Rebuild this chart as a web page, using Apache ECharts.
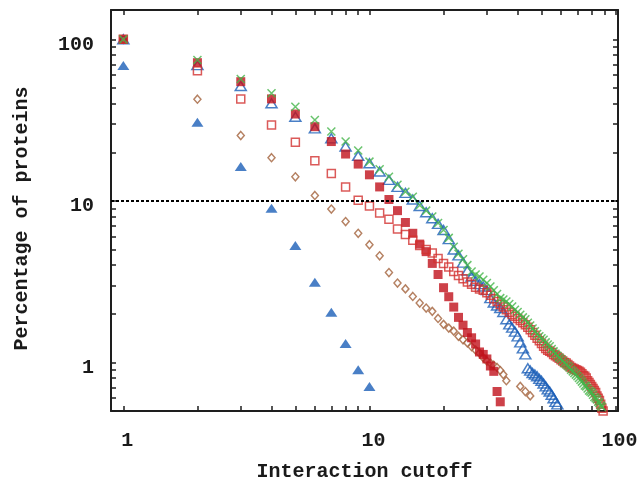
<!DOCTYPE html>
<html><head><meta charset="utf-8">
<script src="https://cdn.jsdelivr.net/npm/echarts@6/dist/echarts.min.js"></script>
<style>html,body{margin:0;padding:0;background:#fff}#c{width:639px;height:481px}</style>
</head><body><div id="c"></div>
<script>
// ---- axis ticks / labels ----
const xLabels = [1, 10, 100];
const xTicks = [1, 2, 3, 4, 5, 6, 7, 8, 9, 10, 20, 30, 40, 50, 60, 70, 80, 90, 100];
const yLabels = [1, 10, 100];
const yTicks = [0.5, 0.6, 0.7, 0.8, 0.9, 1, 2, 3, 4, 5, 6, 7, 8, 9, 10, 20, 30, 40, 50, 60, 70, 80, 90, 100];
const thresholdY = 10;

// ---- series data ----
const blueFilledX = [1, 2, 3, 4, 5, 6, 7, 8, 9, 10];
const blueFilledY = [69, 30.7, 16.3, 9.0, 5.3, 3.13, 2.04, 1.31, 0.90, 0.71];

const brownX = [1,2,3,4,5,6,7,8,9,10,11,12,13,14,15,16,17,18,19,20,21,22,23,24,25,26,27,28,29,30,31,32,33,34,35,36,41,43,45];
const brownY = [100,42.6,25.4,18.5,14.1,10.8,8.9,7.45,6.3,5.35,4.57,3.6,3.1,2.85,2.56,2.33,2.17,2.07,1.87,1.72,1.63,1.56,1.45,1.38,1.32,1.25,1.19,1.14,1.07,1.02,0.99,0.96,0.93,0.89,0.84,0.77,0.71,0.66,0.62];

const blueOpenX = [1,2,3,4,5,6,7,8,9,10,11,12,13,14,15,16,17,18,19,20,21,22,23,24,25,26,27,28,29,30,31,32,33,34,35,36,37,38,39,40,41,42,43,44,45,46,47,48,49,50,51,52,53,54,55,56,57,58];
const blueOpenY = [100,69.3,51.4,40.2,33.2,28.1,24.4,21.7,19,17.1,15.2,13.5,12.2,11.2,10.2,9.3,8.5,7.8,7.2,6.6,5.8,5.0,4.6,4.15,3.7,3.4,3.2,3.05,2.95,2.8,2.5,2.35,2.25,2.17,2.05,1.85,1.72,1.64,1.55,1.45,1.33,1.22,1.12,0.92,0.89,0.86,0.84,0.82,0.79,0.77,0.74,0.71,0.68,0.66,0.63,0.60,0.57,0.55];

const redFilledX = [1,2,3,4,5,6,7,8,9,10,11,12,13,14,15,16,17,18,19,20,21,22,23,24,25,26,27,28,29,30,31,32,33,34];
const redFilledY = [100,71.7,54.7,42.8,34.5,28.8,23.3,19.5,16.9,14.5,12.2,10.2,8.7,7.35,6.3,5.4,4.85,4.1,3.5,2.9,2.55,2.2,1.9,1.7,1.53,1.42,1.3,1.16,1.12,1.05,0.95,0.88,0.66,0.57];

const redOpenX = [1,2,3,4,5,6,7,8,9,10,11,12,13,14,15,16,17,18,19,20,21,22,23,24,25,26,27,28,29,30,31,32,33,34,35,36,37,38,39,40,41,42,43,44,45,46,47,48,49,50,51,52,53,54,55,56,57,58,59,60,61,62,63,64,65,66,67,68,69,70,71,72,73,74,75,76,77,78,79,80,81,82,83,84,85,86,87,88,89];
const redOpenY = [100,63.9,42.8,29.5,23.1,17.7,14.8,12.2,10.1,9.3,8.4,7.7,6.7,6.2,5.7,5.3,5.0,4.75,4.4,4.1,3.9,3.65,3.45,3.3,3.15,3.05,2.92,2.85,2.8,2.7,2.6,2.48,2.38,2.28,2.2,2.12,2.04,1.98,1.93,1.87,1.82,1.76,1.71,1.65,1.59,1.53,1.47,1.41,1.36,1.31,1.26,1.22,1.19,1.17,1.15,1.12,1.1,1.08,1.06,1.04,1.02,1.0,0.99,0.97,0.95,0.93,0.92,0.91,0.9,0.89,0.88,0.87,0.85,0.83,0.82,0.8,0.77,0.75,0.73,0.71,0.69,0.67,0.65,0.62,0.6,0.58,0.55,0.52,0.5];

const greenX = [1,2,3,4,5,6,7,8,9,10,11,12,13,14,15,16,17,18,19,20,21,22,23,24,25,26,27,28,29,30,31,32,33,34,35,36,37,38,39,40,41,42,43,44,45,46,47,48,49,50,51,52,53,54,55,56,57,58,59,60,61,62,63,64,65,66,67,68,69,70,71,72,73,74,75,76,77,78,79,80,81,82,83,84,85,86,87,88];
const greenY = [100,74.5,56.8,46.4,38.3,31.7,26.9,23.3,20.5,17.5,15.7,14.1,12.6,11.4,10.6,9.4,8.7,8.0,7.3,6.6,5.9,5.2,4.7,4.35,4.0,3.65,3.5,3.4,3.25,3.1,2.95,2.8,2.65,2.5,2.45,2.38,2.3,2.22,2.12,2.05,1.97,1.9,1.85,1.76,1.69,1.62,1.56,1.5,1.45,1.41,1.38,1.33,1.29,1.26,1.21,1.17,1.13,1.1,1.07,1.05,1.02,0.99,0.97,0.95,0.93,0.9,0.88,0.86,0.84,0.82,0.8,0.78,0.76,0.74,0.72,0.71,0.69,0.67,0.66,0.65,0.63,0.61,0.6,0.59,0.57,0.56,0.54,0.53];

const X_MIN = 0.891, X_MAX = 102.3, Y_MIN = 0.5, Y_MAX = 152;

const FONT = '"Liberation Mono", "DejaVu Sans Mono", monospace';
const AXC = '#1e1e1e';
const TXT = '#1a1a1a';
const zip = (xs, ys) => xs.map((x, i) => [x, ys[i]]);
const labelFont = { fontFamily: FONT, fontWeight: 'bold', fontSize: 20, color: TXT };

function mkAxis(kind, pos, labels, labelExtra) {
  return {
    type: 'log', position: pos,
    min: kind === 'x' ? X_MIN : Y_MIN, max: kind === 'x' ? X_MAX : Y_MAX,
    splitLine: { show: false },
    axisLine: { show: true, lineStyle: { color: AXC, width: 2 } },
    axisTick: { show: true, inside: true, length: 5, customValues: kind === 'x' ? xTicks : yTicks,
      lineStyle: { color: AXC, width: 1.5 } },
    axisLabel: labels ? Object.assign({ show: true, customValues: labels }, labelFont, labelExtra) : { show: false }
  };
}

const xAxes = [
  Object.assign(mkAxis('x', 'bottom', xLabels, {
    margin: 20, padding: [0, 0, 0, 8], formatter: v => String(Math.round(v))
  }), {
    name: 'Interaction cutoff', nameLocation: 'middle', nameGap: 51,
    nameTextStyle: labelFont
  }),
  mkAxis('x', 'top', null)
];
const yAxes = [
  Object.assign(mkAxis('y', 'left', yLabels, {
    margin: 17, formatter: v => '{a|' + Math.round(v) + '}',
    rich: { a: Object.assign({ padding: [11, 0, 0, 0] }, labelFont) }
  }), {
    name: 'Percentage of proteins', nameLocation: 'middle', nameGap: 79, nameRotate: 90,
    nameTextStyle: Object.assign({ padding: [0, 16, 0, 0] }, labelFont)
  }),
  mkAxis('y', 'right', null)
];

const BLUE = '#1c5fb8', RED = '#c0121c', RED2 = '#d2312f', BROWN = '#a3613b', GREEN = '#45b54a';
const xPath = 'path://M0,0L10,10M10,0L0,10';

const option = {
  animation: false,
  backgroundColor: '#fff',
  grid: { left: 111, top: 10, right: 21, bottom: 70, containLabel: false, outerBoundsMode: 'none' },
  xAxis: xAxes,
  yAxis: yAxes,
  series: [
    { type: 'scatter', name: 'blueFilled', data: zip(blueFilledX, blueFilledY), symbol: 'triangle', symbolSize: [12, 9],
      itemStyle: { color: BLUE }, clip: false,
      markLine: { silent: true, symbol: 'none', label: { show: false },
        lineStyle: { color: '#000', type: [3, 2], width: 2 }, data: [{ yAxis: thresholdY }] } },
    { type: 'scatter', name: 'brown', data: zip(brownX, brownY), symbol: 'diamond', symbolSize: [7, 8],
      itemStyle: { color: '#fff', borderColor: BROWN, borderWidth: 1.5 }, clip: false },
    { type: 'scatter', name: 'blueOpen', data: zip(blueOpenX, blueOpenY), symbol: 'triangle', symbolSize: [11, 9],
      itemStyle: { color: 'rgba(255,255,255,0)', borderColor: BLUE, borderWidth: 1.5 }, clip: false },
    { type: 'scatter', name: 'redFilled', data: zip(redFilledX, redFilledY), symbol: 'rect', symbolSize: 9,
      itemStyle: { color: RED }, clip: false },
    { type: 'scatter', name: 'redOpen', data: zip(redOpenX, redOpenY), symbol: 'rect', symbolSize: 8,
      itemStyle: { color: 'rgba(255,255,255,0)', borderColor: RED2, borderWidth: 1.5 }, clip: false },
    { type: 'scatter', name: 'green', data: zip(greenX, greenY), symbol: xPath, symbolSize: 8,
      itemStyle: { color: 'rgba(0,0,0,0)', borderColor: GREEN, borderWidth: 1.5 }, clip: false }
  ]
};
const chart = echarts.init(document.getElementById('c'), null, { renderer: 'canvas' });
chart.setOption(option);
</script></body></html>
